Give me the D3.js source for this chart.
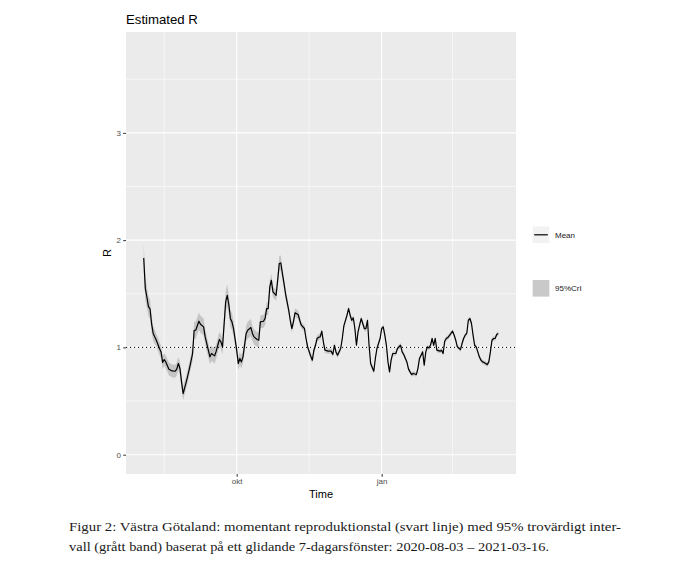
<!DOCTYPE html>
<html><head><meta charset="utf-8">
<script src="https://cdn.jsdelivr.net/npm/d3@7"></script>
<style>body{margin:0;background:#fff} svg{display:block}</style>
</head><body><svg id="c" width="700" height="569"></svg>
<script>
// ---------- data ----------
const startDate = "2020-08-03";
const dayOffsets = [
  0,1,2,3,4,5,6,8,10,11,
  12,13,14,16,18,20,21,22,23,24,
  25,27,29,31,32,33,35,36,38,39,
  41,42,43,45,46,48,49,50,52,53,
  54,55,56,57,59,60,61,62,63,65,
  66,68,69,70,72,73,74,76,77,78,
  79,80,81,82,83,84,85,86,87,88,
  89,90,92,93,94,95,96,98,99,100,
  102,103,104,106,107,108,109,110,111,112,
  113,114,115,117,119,120,121,122,123,125,
  126,127,128,129,130,131,132,133,134,135,
  136,137,138,139,140,141,142,143,144,146,
  147,148,150,151,152,153,154,155,156,157,
  158,160,161,163,164,165,167,168,169,170,
  171,173,174,175,177,178,179,180,181,182,
  183,184,185,186,188,189,190,191,192,193,
  195,196,197,198,199,201,202,203,204,205,
  206,207,208,209,210,211,212,213,214,215,
  216,218,219,220,221,222,223,224,225
];
const meanR = [
  1.834,1.55,1.47,1.38,1.36,1.22,1.13,1.067,0.99,0.958,
  0.86,0.887,0.865,0.797,0.781,0.778,0.80,0.85,0.803,0.679,
  0.57,0.679,0.803,0.943,1.16,1.16,1.244,1.216,1.191,1.098,
  0.974,0.912,0.943,0.921,0.965,1.074,1.051,1.005,1.424,1.486,
  1.40,1.27,1.238,1.176,0.974,0.85,0.897,0.865,0.912,1.13,
  1.16,1.185,1.13,1.098,1.074,1.067,1.238,1.244,1.269,1.362,
  1.362,1.564,1.626,1.517,1.502,1.486,1.626,1.782,1.787,1.689,
  1.60,1.50,1.347,1.253,1.176,1.238,1.322,1.306,1.253,1.207,
  1.176,1.083,1.005,0.918,0.881,0.974,1.02,1.083,1.095,1.098,
  1.151,1.051,0.974,0.965,0.965,0.934,1.02,0.958,0.927,0.99,
  1.083,1.20,1.25,1.30,1.362,1.30,1.253,1.275,1.176,1.02,
  1.145,1.207,1.269,1.223,1.176,1.176,1.253,1.02,0.85,0.778,
  0.897,0.99,1.083,1.176,1.191,1.114,1.02,0.865,0.772,0.881,
  0.943,0.943,0.99,1.02,0.958,0.934,0.865,0.80,0.772,0.747,
  0.757,0.747,0.803,0.897,0.958,0.834,0.958,1.005,0.995,1.02,
  1.083,1.02,1.083,0.974,0.965,0.974,0.943,1.058,1.083,1.092,
  1.13,1.151,1.114,1.067,1.005,0.98,1.036,1.083,1.114,1.13,
  1.253,1.269,1.223,1.114,1.02,1.005,0.958,0.912,0.881,0.865,
  0.859,0.84,0.865,0.958,1.067,1.083,1.083,1.12,1.13
];
const crHalfWidth = [
  0.13,0.11,0.10,0.09,0.09,0.08,0.07,0.06,0.06,0.06,
  0.06,0.06,0.06,0.06,0.06,0.06,0.06,0.06,0.06,0.06,
  0.06,0.06,0.06,0.07,0.08,0.08,0.08,0.08,0.08,0.07,
  0.07,0.07,0.07,0.07,0.07,0.07,0.07,0.07,0.10,0.10,
  0.09,0.08,0.08,0.07,0.06,0.06,0.06,0.06,0.06,0.07,
  0.08,0.08,0.07,0.07,0.07,0.07,0.06,0.06,0.06,0.06,
  0.06,0.06,0.06,0.05,0.05,0.05,0.06,0.07,0.07,0.06,
  0.05,0.05,0.04,0.04,0.04,0.04,0.04,0.04,0.04,0.03,
  0.03,0.03,0.03,0.03,0.03,0.03,0.03,0.03,0.03,0.03,
  0.025,0.025,0.025,0.025,0.025,0.025,0.025,0.025,0.025,0.025,
  0.025,0.025,0.025,0.025,0.025,0.025,0.025,0.025,0.025,0.025,
  0.025,0.025,0.025,0.025,0.025,0.025,0.025,0.025,0.025,0.025,
  0.02,0.02,0.02,0.02,0.02,0.02,0.02,0.02,0.02,0.02,
  0.02,0.02,0.02,0.02,0.02,0.02,0.02,0.02,0.02,0.02,
  0.02,0.02,0.02,0.02,0.02,0.02,0.02,0.02,0.02,0.02,
  0.02,0.02,0.02,0.02,0.02,0.02,0.02,0.02,0.02,0.02,
  0.02,0.02,0.02,0.02,0.02,0.02,0.02,0.02,0.02,0.02,
  0.02,0.02,0.02,0.02,0.02,0.02,0.02,0.02,0.02,0.02,
  0.02,0.02,0.02,0.02,0.02,0.02,0.02,0.02,0.02
];
const xTickDates = ["2020-10-01", "2021-01-01"];
const xTickLabels = ["okt", "jan"];
const xMinorDates = ["2020-08-16", "2020-11-16", "2021-02-15"];
const yTicks = [0, 1, 2, 3];
const yMinor = [0.5, 1.5, 2.5, 3.5];
const referenceR = 1;
const legendLabels = ["Mean", "95%CrI"];
const titleText = "Estimated R";
const xTitle = "Time";
const yTitle = "R";
const captionLines = [
  "Figur 2: Västra Götaland: momentant reproduktionstal (svart linje) med 95% trovärdigt inter-",
  "vall (grått band) baserat på ett glidande 7-dagarsfönster: 2020-08-03 – 2021-03-16."
];

// ---------- chart ----------
const svg = d3.select("#c");
const sans = "'Liberation Sans', Arial, Helvetica, sans-serif";
const P = {left: 126, right: 516, top: 32, bottom: 474};
const parse = d3.utcParse("%Y-%m-%d");
const t0 = parse(startDate);
const rows = dayOffsets.map((d, i) => ({
  date: d3.utcDay.offset(t0, d), mean: meanR[i],
  lo: meanR[i] - crHalfWidth[i], hi: meanR[i] + crHalfWidth[i]
}));
const first = rows[0].date, last = rows[rows.length - 1].date;
const pad = (last - first) * 0.05;
const x = d3.scaleUtc().domain([new Date(+first - pad), new Date(+last + pad)]).range([P.left, P.right]);
const y = d3.scaleLinear().domain([-0.18, 3.94]).range([P.bottom, P.top]);

svg.append("rect").attr("x", P.left).attr("y", P.top)
  .attr("width", P.right - P.left).attr("height", P.bottom - P.top).attr("fill", "#EBEBEB");

const grid = svg.append("g");
grid.selectAll(".ymin").data(yMinor).join("line")
  .attr("x1", P.left).attr("x2", P.right).attr("y1", d => y(d)).attr("y2", d => y(d))
  .attr("stroke", "#fff").attr("stroke-width", 0.55);
grid.selectAll(".xmin").data(xMinorDates.map(parse)).join("line")
  .attr("y1", P.top).attr("y2", P.bottom).attr("x1", d => x(d)).attr("x2", d => x(d))
  .attr("stroke", "#fff").attr("stroke-width", 0.55);
grid.selectAll(".ymaj").data(yTicks).join("line")
  .attr("x1", P.left).attr("x2", P.right).attr("y1", d => y(d)).attr("y2", d => y(d))
  .attr("stroke", "#fff").attr("stroke-width", 1.1);
grid.selectAll(".xmaj").data(xTickDates.map(parse)).join("line")
  .attr("y1", P.top).attr("y2", P.bottom).attr("x1", d => x(d)).attr("x2", d => x(d))
  .attr("stroke", "#fff").attr("stroke-width", 1.1);

svg.append("path").datum(rows)
  .attr("d", d3.area().x(d => x(d.date)).y0(d => y(d.lo)).y1(d => y(d.hi)))
  .attr("fill", "#7f7f7f").attr("fill-opacity", 0.35);

svg.append("line").attr("x1", P.left).attr("x2", P.right)
  .attr("y1", y(referenceR)).attr("y2", y(referenceR))
  .attr("stroke", "#000").attr("stroke-width", 1).attr("stroke-dasharray", "1.1,2.9");

svg.append("path").datum(rows)
  .attr("d", d3.line().x(d => x(d.date)).y(d => y(d.mean)))
  .attr("fill", "none").attr("stroke", "#000").attr("stroke-width", 1.2)
  .attr("stroke-linejoin", "round");

// axes
const yAxis = svg.append("g").attr("transform", `translate(${P.left},0)`)
  .call(d3.axisLeft(y).tickValues(yTicks).tickSize(2.8).tickPadding(2.2).tickFormat(d3.format("d")));
const xAxis = svg.append("g").attr("transform", `translate(0,${P.bottom})`)
  .call(d3.axisBottom(x).tickValues(xTickDates.map(parse)).tickSize(2.8).tickPadding(2)
    .tickFormat((d, i) => xTickLabels[i]));
[yAxis, xAxis].forEach(g => {
  g.select(".domain").remove();
  g.selectAll(".tick line").attr("stroke", "#333").attr("stroke-width", 1);
  g.selectAll(".tick text").attr("fill", "#4D4D4D").style("font-family", sans).style("font-size", "8px");
});

svg.append("text").attr("x", P.left).attr("y", 24).text(titleText)
  .style("font-family", sans).style("font-size", "13.2px").attr("fill", "#000");
svg.append("text").attr("x", (P.left + P.right) / 2).attr("y", 498).attr("text-anchor", "middle")
  .text(xTitle).style("font-family", sans).style("font-size", "11px").attr("fill", "#000");
svg.append("text").attr("transform", `translate(110.5,${(P.top + P.bottom) / 2}) rotate(-90)`)
  .attr("text-anchor", "middle").text(yTitle)
  .style("font-family", sans).style("font-size", "11px").attr("fill", "#000");

// legend
const lg = svg.append("g");
const keyX = 532.7, keyW = 16.6, keyYs = [226.5, 280];
lg.selectAll(".kb").data(keyYs).join("rect")
  .attr("x", keyX).attr("y", d => d).attr("width", keyW).attr("height", keyW).attr("fill", "#F2F2F2");
lg.append("rect").attr("x", keyX).attr("y", keyYs[1]).attr("width", keyW).attr("height", keyW)
  .attr("fill", "#7f7f7f").attr("fill-opacity", 0.35);
lg.append("line").attr("x1", keyX + 1.5).attr("x2", keyX + keyW - 1.5)
  .attr("y1", keyYs[0] + keyW / 2).attr("y2", keyYs[0] + keyW / 2)
  .attr("stroke", "#000").attr("stroke-width", 1.2);
lg.selectAll(".lt").data(legendLabels).join("text")
  .attr("x", 555).attr("y", (d, i) => keyYs[i] + keyW / 2 + 2.9).text(d => d)
  .style("font-family", sans).style("font-size", "8px").attr("fill", "#1a1a1a");

// caption
const capW = [552, 480];
svg.selectAll(".cap").data(captionLines).join("text")
  .attr("x", 69).attr("y", (d, i) => 530.5 + i * 20).text(d => d)
  .attr("textLength", (d, i) => capW[i]).attr("lengthAdjust", "spacingAndGlyphs")
  .style("font-family", "'Liberation Serif', 'DejaVu Serif', serif").style("font-size", "13.4px")
  .attr("fill", "#1a1a1a");
</script></body></html>
